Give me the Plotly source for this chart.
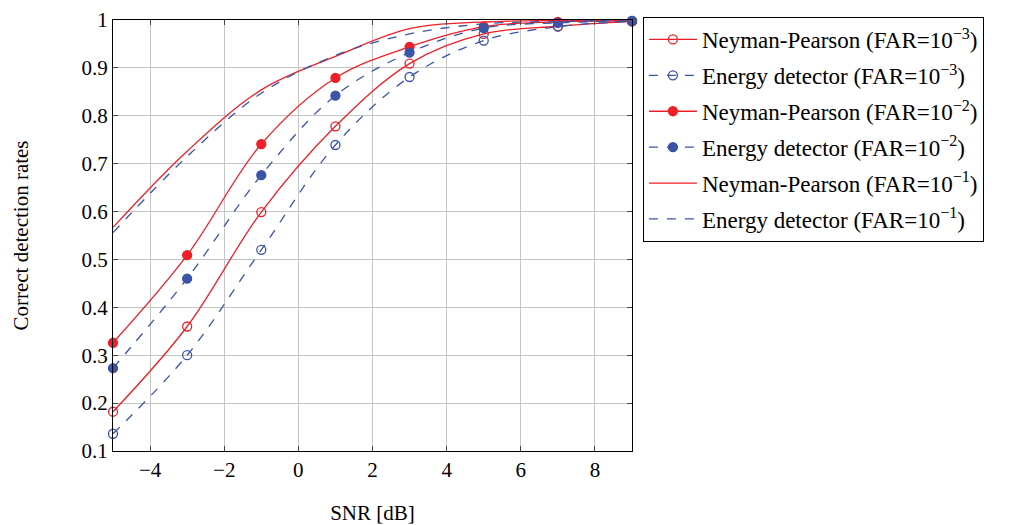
import plotly.graph_objects as go

snr = [-5, -3, -1, 1, 3, 5, 7, 9]

np_far3 = [0.182, 0.360, 0.599, 0.778, 0.909, 0.971, 0.987, 0.997]
ed_far3 = [0.136, 0.300, 0.520, 0.739, 0.881, 0.957, 0.986, 0.997]
np_far2 = [0.326, 0.509, 0.741, 0.879, 0.944, 0.986, 0.996, 0.998]
ed_far2 = [0.273, 0.460, 0.676, 0.842, 0.932, 0.983, 0.994, 0.998]
np_far1 = [0.567, 0.726, 0.854, 0.924, 0.982, 0.996, 0.999, 1.000]
ed_far1 = [0.556, 0.715, 0.847, 0.926, 0.971, 0.992, 0.997, 0.999]

labels = [
    "Neyman-Pearson (FAR=10<sup>\u22123</sup>)",
    "Energy detector (FAR=10<sup>\u22123</sup>)",
    "Neyman-Pearson (FAR=10<sup>\u22122</sup>)",
    "Energy detector (FAR=10<sup>\u22122</sup>)",
    "Neyman-Pearson (FAR=10<sup>\u22121</sup>)",
    "Energy detector (FAR=10<sup>\u22121</sup>)",
]

RED = "#ee1f26"
BLUE = "#3a54a6"
FONT = "Liberation Serif, DejaVu Serif, Times New Roman, serif"

series = [
    (np_far3, RED, "solid", "circle-open"),
    (ed_far3, BLUE, "dash", "circle-open"),
    (np_far2, RED, "solid", "circle"),
    (ed_far2, BLUE, "dash", "circle"),
    (np_far1, RED, "solid", None),
    (ed_far1, BLUE, "dash", None),
]

fig = go.Figure()
for i, ((ys, col, dash, sym), name) in enumerate(zip(series, labels)):
    mode = "lines+markers" if sym else "lines"
    kw = {}
    if sym:
        kw["marker"] = dict(symbol=sym, size=9, color=col, line=dict(width=1.3, color=col))
    fig.add_trace(go.Scatter(
        x=snr, y=ys, name=name, mode=mode, legendgroup=f"g{i}",
        line=dict(color=col, width=1.3, dash=dash, shape="spline", smoothing=1.0),
        cliponaxis=False, **kw))

axis_common = dict(
    showgrid=True, gridcolor="#c4c4c4", gridwidth=1,
    showline=True, linecolor="black", linewidth=1.3, mirror="allticks",
    ticks="inside", ticklen=5, tickcolor="#444", zeroline=False,
    automargin=False,
    tickfont=dict(family=FONT, size=21, color="black"),
)

fig.update_xaxes(range=[-5, 9], tickvals=[-4, -2, 0, 2, 4, 6, 8],
                 title=dict(text="SNR [dB]", font=dict(family=FONT, size=21, color="black"), standoff=31),
                 **axis_common)
fig.update_yaxes(range=[0.1, 1], tickvals=[0.1, 0.2, 0.3, 0.4, 0.5, 0.6, 0.7, 0.8, 0.9, 1.0],
                 ticktext=["0.1", "0.2", "0.3", "0.4", "0.5", "0.6", "0.7", "0.8", "0.9", "1"],
                 title=dict(text="Correct detection rates", font=dict(family=FONT, size=21, color="black"), standoff=47),
                 **axis_common)

fig.update_layout(
    width=1017, height=517,
    margin=dict(l=105, r=393, t=12, b=74, autoexpand=False),
    plot_bgcolor="white", paper_bgcolor="white",
    legend=dict(x=1.021, y=1.007, xanchor="left", yanchor="top",
                bordercolor="black", borderwidth=1, bgcolor="white",
                font=dict(family=FONT, size=23, color="black"),
                tracegroupgap=3, itemwidth=48),
)

fig.write_html("out.html")
